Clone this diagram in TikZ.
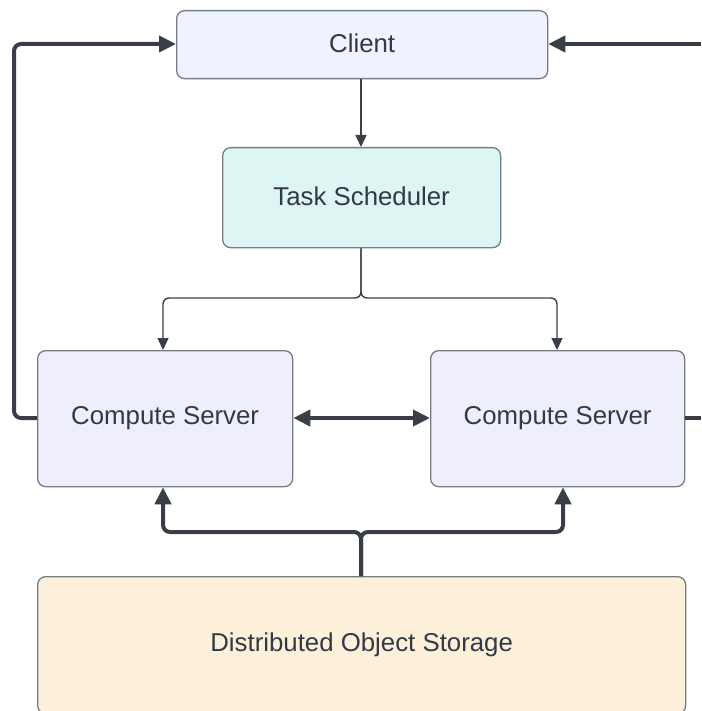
\documentclass[tikz,border=0pt]{standalone}
\usepackage{fontspec}
\setmainfont{Liberation Sans}
\usetikzlibrary{arrows.meta}

\definecolor{inkc}{HTML}{3A3F47}
\definecolor{edgec}{HTML}{777B83}
\definecolor{txtc}{HTML}{333A45}
\definecolor{clientfill}{HTML}{EEF3FF}
\definecolor{schedfill}{HTML}{DDF6F3}
\definecolor{serverfill}{HTML}{EFEFFC}
\definecolor{storefill}{HTML}{FCF0DA}

% labels sit a little above the box centre
\newcommand{\boxlabel}[1]{\raisebox{3pt}{#1}}

\tikzset{
  box/.style={draw=edgec, line width=1.3pt, rounded corners=8pt, inner sep=0pt,
    text=txtc, font=\fontsize{25.8}{30}\selectfont, anchor=north west},
  thinlink/.style={draw=inkc, line width=1.4pt, rounded corners=6pt,
    -{Triangle[length=12pt,width=11pt]}},
  thicklink/.style={draw=inkc, line width=4pt, rounded corners=7pt,
    -{Triangle[length=17pt,width=16pt]}},
  bothlink/.style={draw=inkc, line width=4pt,
    {Triangle[length=17pt,width=16pt]}-{Triangle[length=17pt,width=16pt]}},
  openlink/.style={draw=inkc, line width=4pt},
}

\begin{document}
\begin{tikzpicture}[x=1pt, y=-1pt]
  \useasboundingbox (0,0) rectangle (701,711);

  % boxes
  \node[box, fill=clientfill, minimum width=371pt, minimum height=68pt] (client) at (176,10) {\boxlabel{Client}};
  \node[box, fill=schedfill, minimum width=278pt, minimum height=100pt] (sched) at (222,147) {\boxlabel{Task Scheduler}};
  \node[box, fill=serverfill, minimum width=255pt, minimum height=136pt] (csl) at (37,350) {\boxlabel{Compute Server}};
  \node[box, fill=serverfill, minimum width=254pt, minimum height=136pt] (csr) at (430,350) {\boxlabel{Compute Server}};
  \node[box, fill=storefill, minimum width=648pt, minimum height=137pt] (store) at (37,576) {\raisebox{4pt}{Distributed Object Storage}};

  % free ends of the links that leave the frame on the right
  \coordinate (outtop) at (701,44);
  \coordinate (outmid) at (701,418);

  % client to scheduler
  \draw[thinlink] (client.south -| 361,0) -- (sched.north -| 361,0);

  % scheduler to both servers
  \draw[thinlink] (sched.south -| 361,0) -- (361,298) -| (csl.north -| 163,0);
  \draw[thinlink] (sched.south -| 361,0) -- (361,298) -| (csr.north -| 557,0);

  % server to server
  \draw[bothlink] (csl.east |- 0,418) -- (csr.west |- 0,418);

  % storage to both servers
  \draw[thicklink] (store.north -| 361,0) -- (361,532) -| (csl.south -| 163,0);
  \draw[thicklink] (store.north -| 361,0) -- (361,532) -| (csr.south -| 563,0);

  % left server back to client
  \draw[thicklink] (csl.west |- 0,418) -- (14,418) |- (client.west |- 0,44);

  % right side links
  \draw[openlink] (csr.east |- 0,418) -- (outmid);
  \draw[thicklink] (outtop) -- (client.east |- 0,44);
\end{tikzpicture}
\end{document}
